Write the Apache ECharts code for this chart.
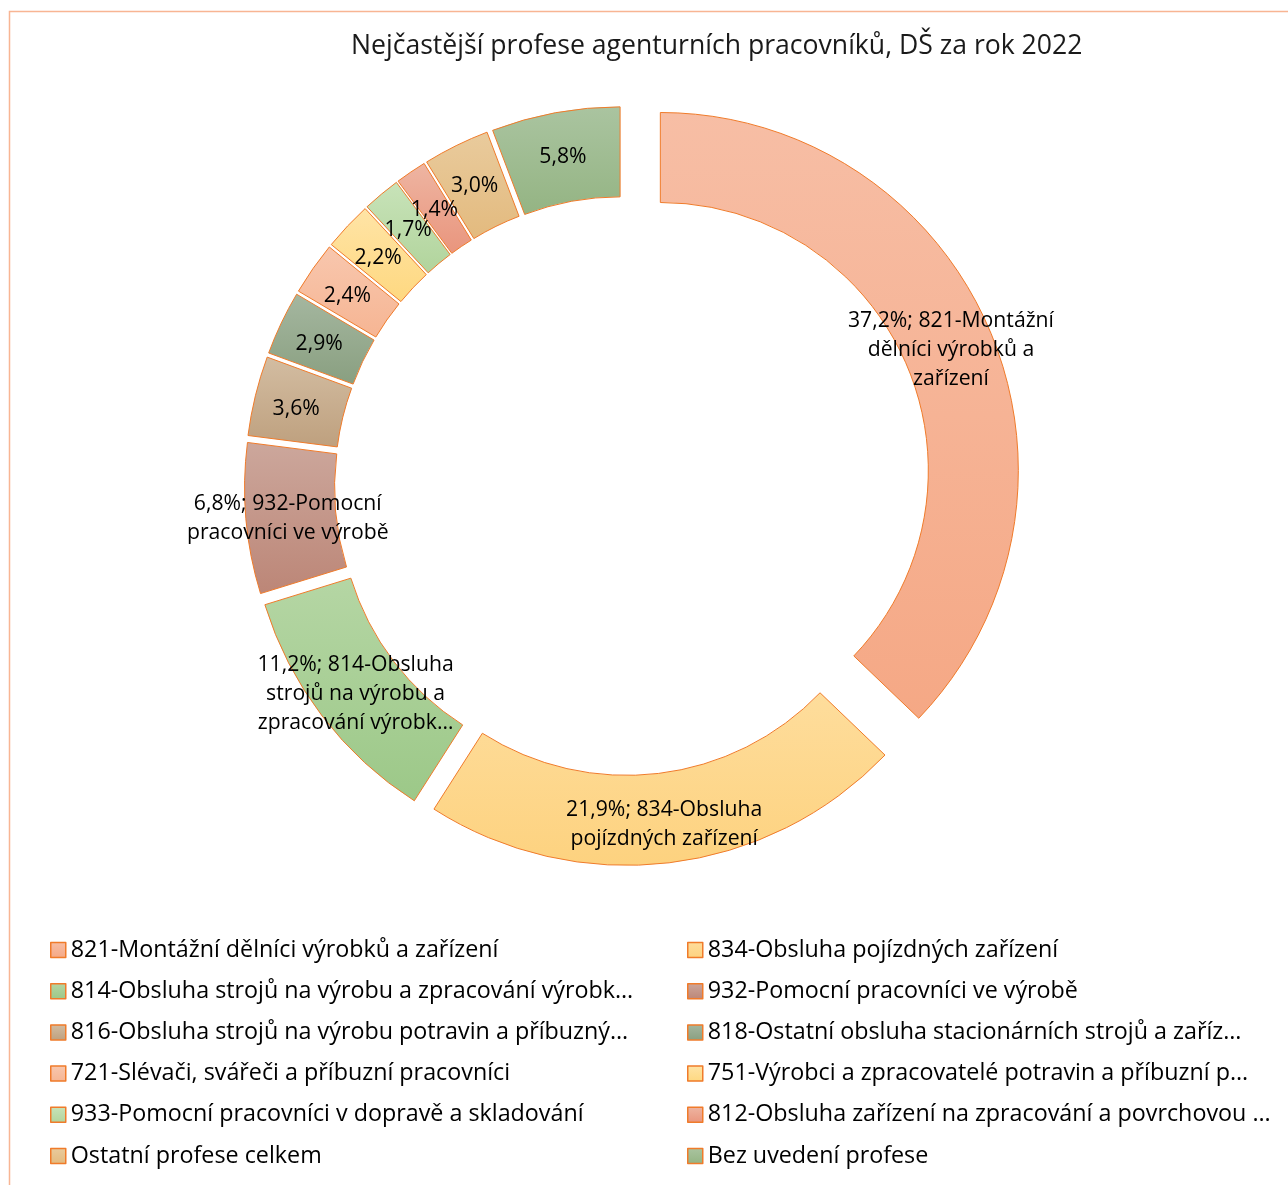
<!DOCTYPE html>
<html style="height: 100%">
<head>
	<meta charset="utf-8">
</head>
<body style="height: 100%; margin: 0; background: #fff">
<div id="container" style="width: 1288px; height: 1185px"></div>
<script type="text/javascript" src="https://cdn.jsdelivr.net/npm/echarts@6/dist/echarts.min.js"></script>
<script type="text/javascript">
    // profese (poradi po smeru hodin od 12 h) a podily v %
    var names = [
        '821-Montážní dělníci výrobků a zařízení',
        '834-Obsluha pojízdných zařízení',
        '814-Obsluha strojů na výrobu a zpracování výrobk…',
        '932-Pomocní pracovníci ve výrobě',
        '816-Obsluha strojů na výrobu potravin a příbuzný…',
        '818-Ostatní obsluha stacionárních strojů a zaříz…',
        '721-Slévači, svářeči a příbuzní pracovníci',
        '751-Výrobci a zpracovatelé potravin a příbuzní p…',
        '933-Pomocní pracovníci v dopravě a skladování',
        '812-Obsluha zařízení na zpracování a povrchovou …',
        'Ostatní profese celkem',
        'Bez uvedení profese'
    ];
    var shares = [37.2, 21.9, 11.2, 6.8, 3.6, 2.9, 2.4, 2.2, 1.7, 1.4, 3.0, 5.8];

    // barvy vyseci (horni / dolni cast prechodu)
    var colorTop = ['#F7BEA5', '#FEDD9C', '#B5D6A4', '#CCA79C', '#D3BDA2', '#A5B7A0',
                    '#F8C7AE', '#FFE4A6', '#C8E3B9', '#EEB5A2', '#E9CB9D', '#AAC4A0'];
    var colorBottom = ['#F5A885', '#FDD27F', '#9CC888', '#BC8677', '#BEA07E', '#899F80',
                       '#F6B593', '#FED880', '#B1D49C', '#E9957D', '#E3BA7E', '#94B483'];

    var font = '"Open Sans", sans-serif';
    var labelSize = 21.2;
    var edge = '#F07B2A';

    function grad(i) {
        return {
            type: 'linear', x: 0, y: 0, x2: 0, y2: 1,
            colorStops: [{offset: 0, color: colorTop[i]}, {offset: 1, color: colorBottom[i]}]
        };
    }

    function fmt(v) {
        return v.toFixed(1).replace('.', ',') + '%';
    }

    // zalamovani popisku po slovech (jako v Excelu)
    var ctx = document.createElement('canvas').getContext('2d');
    function wrap(text, maxW) {
        ctx.font = labelSize + 'px ' + font;
        var words = text.split(' '), lines = [], cur = '';
        words.forEach(function (w) {
            var test = cur ? cur + ' ' + w : w;
            if (cur && ctx.measureText(test).width > maxW) {
                lines.push(cur);
                cur = w;
            } else {
                cur = test;
            }
        });
        lines.push(cur);
        return lines.join('\n');
    }

    // vrstva s nejvetsi vyseci (vic vysunuta) a vrstva s ostatnimi
    var bigData = [], restData = [];
    for (var i = 0; i < names.length; i++) {
        var hidden = {color: 'rgba(0,0,0,0)', borderWidth: 0};
        bigData.push({
            name: i === 0 ? names[i] : '_' + i,
            value: shares[i],
            selected: true,
            itemStyle: i === 0 ? {color: grad(i)} : hidden,
            label: {show: i === 0}
        });
        restData.push({
            name: names[i],
            value: shares[i],
            selected: true,
            itemStyle: i === 0 ? hidden : {color: grad(i)},
            label: {show: i !== 0}
        });
    }

    var pieBase = {
        type: 'pie',
        center: [624, 486],
        radius: [268, 358],
        startAngle: 90,
        clockwise: true,
        selectedMode: 'multiple',
        avoidLabelOverlap: false,
        labelLayout: {hideOverlap: false, dy: 3},
        animation: false,
        emphasis: {disabled: true},
        itemStyle: {borderColor: edge, borderWidth: 1},
        labelLine: {show: false},
        label: {
            position: 'inside',
            fontFamily: font,
            fontSize: labelSize,
            lineHeight: 29,
            color: '#000',
            formatter: function (p) {
                return p.value > 6 ? wrap(fmt(p.value) + '; ' + p.name, 230) : fmt(p.value);
            }
        }
    };

    function legendFor(list, left) {
        return {
            orient: 'vertical',
            left: left,
            top: 938,
            padding: 0,
            itemWidth: 15,
            itemHeight: 15,
            itemGap: 17.2,
            icon: 'rect',
            selectedMode: false,
            itemStyle: {borderColor: edge, borderWidth: 1.5},
            textStyle: {fontFamily: font, fontSize: 23.3, lineHeight: 24, color: '#000'},
            data: list
        };
    }

    var dom = document.getElementById("container");
    var myChart = echarts.init(dom, null, {renderer: 'canvas'});
    var option = {
        backgroundColor: '#fff',
        title: {
            text: 'Nejčastější profese agenturních pracovníků, DŠ za rok 2022',
            left: 351,
            top: 33,
            padding: 0,
            textStyle: {fontFamily: font, fontSize: 26.6, fontWeight: 'normal', color: '#1a1a1a'}
        },
        graphic: [{
            type: 'rect',
            silent: true,
            z: -10,
            shape: {x: 9.5, y: 11.5, width: 1400, height: 1300},
            style: {fill: 'none', stroke: '#F8B593', lineWidth: 1.5}
        }],
        legend: [
            legendFor(names.filter(function (n, k) { return k % 2 === 0; }), 50),
            legendFor(names.filter(function (n, k) { return k % 2 === 1; }), 687)
        ],
        series: [
            echarts.util.merge({name: 'big', selectedOffset: 39.5, data: bigData}, pieBase),
            echarts.util.merge({name: 'rest', selectedOffset: 21.5, data: restData}, pieBase)
        ]
    };

    if (option && typeof option === "object") {
        myChart.setOption(option, true);
    }
</script>
</body>
</html>
